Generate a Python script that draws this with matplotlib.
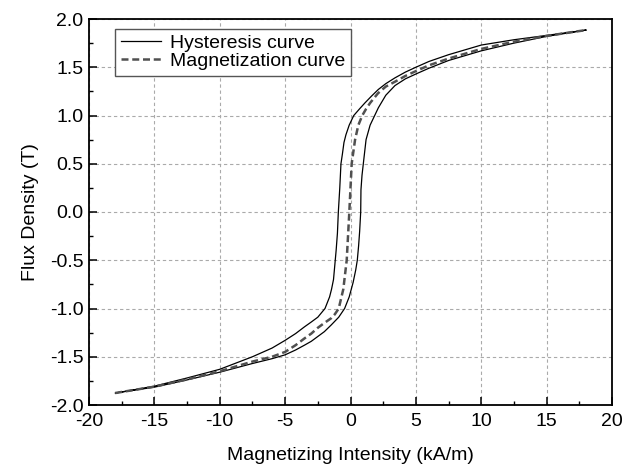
import matplotlib
matplotlib.use("Agg")
import matplotlib.pyplot as plt
import numpy as np
from matplotlib.ticker import MultipleLocator

plt.rcParams['font.family'] = ['Liberation Sans', 'DejaVu Sans']

# Hysteresis loop: descending branch (H decreasing from +Hmax)
desc_H = [18.0, 15.0, 12.5, 10.0, 7.5, 6.0, 5.0, 4.2, 3.4, 2.7, 2.13, 1.6, 1.1, 0.7, 0.25,
          -0.1, -0.35, -0.5, -0.62, -0.73, -0.82, -0.93, -1.0, -1.1, -1.2, -1.3, -1.45,
          -1.6, -1.95, -2.5, -3.0, -3.52, -4.2, -5.0, -6.0, -7.5, -10.0, -12.5, -15.0, -18.0]
desc_B = [1.885, 1.83, 1.785, 1.73, 1.63, 1.56, 1.50, 1.45, 1.39, 1.33, 1.27, 1.20, 1.13, 1.07, 1.0,
          0.9, 0.8, 0.72, 0.6, 0.5, 0.25, 0.0, -0.22, -0.4, -0.55, -0.7, -0.8,
          -0.88, -1.0, -1.09, -1.14, -1.19, -1.26, -1.33, -1.41, -1.50, -1.63, -1.72, -1.805, -1.876]

# Hysteresis loop: ascending branch (H increasing from -Hmax)
asc_H = [-18.0, -15.0, -12.5, -10.0, -7.5, -6.0, -5.0, -4.2, -3.52, -3.0, -2.5, -2.0, -1.47,
         -0.9, -0.45, -0.1, 0.2, 0.4, 0.52, 0.62, 0.7, 0.78, 0.8, 0.88, 0.98, 1.19, 1.5,
         1.85, 2.13, 2.7, 3.4, 4.2, 5.0, 6.0, 7.5, 10.0, 12.5, 15.0, 18.0]
asc_B = [-1.876, -1.815, -1.74, -1.66, -1.57, -1.52, -1.48, -1.43, -1.38, -1.34, -1.29, -1.24, -1.17,
         -1.09, -1.0, -0.88, -0.73, -0.6, -0.5, -0.35, -0.2, 0.0, 0.23, 0.38, 0.5, 0.75, 0.9,
         1.0, 1.08, 1.21, 1.31, 1.38, 1.43, 1.49, 1.57, 1.67, 1.75, 1.82, 1.885]

# Initial magnetization curve (dashed)
mag_H = [-18.0, -15.0, -12.5, -10.0, -7.5, -6.0, -5.0, -4.2, -3.52, -3.0, -2.5, -2.0, -1.47,
         -1.2, -0.9, -0.55, -0.29, -0.09, 0.09, 0.35, 0.6, 0.9, 1.2, 1.5, 2.1, 2.7, 3.4,
         4.2, 5.0, 6.0, 7.5, 10.0, 12.5, 15.0, 18.0]
mag_B = [-1.876, -1.81, -1.735, -1.65, -1.55, -1.50, -1.45, -1.38, -1.31, -1.26, -1.2, -1.15, -1.1,
         -1.06, -1.0, -0.8, -0.5, 0.0, 0.5, 0.75, 0.9, 1.0, 1.07, 1.13, 1.23, 1.30, 1.35,
         1.41, 1.46, 1.52, 1.59, 1.69, 1.765, 1.825, 1.885]

x_ticks = [-20, -15, -10, -5, 0, 5, 10, 15, 20]
y_ticks = [-2.0, -1.5, -1.0, -0.5, 0.0, 0.5, 1.0, 1.5, 2.0]

fig = plt.figure(figsize=(6.34, 4.67), dpi=100)
ax = fig.add_axes([89/634, 1-405/467, (612-89)/634, (405-19)/467])

hyst_H = desc_H + asc_H
hyst_B = desc_B + asc_B
ax.plot(hyst_H, hyst_B, color='black', lw=0.9, label='Hysteresis curve', zorder=3)
ax.plot(mag_H, mag_B, color='#505050', lw=1.8, linestyle=(0, (2.8, 1.5)),
        label='Magnetization curve', zorder=3)

ax.set_xlim(-20, 20)
ax.set_ylim(-2.0, 2.0)
ax.set_xticks(x_ticks)
ax.set_yticks(y_ticks)
ax.set_xticklabels([f"{v:d}" for v in x_ticks])
ax.set_yticklabels([f"{v:.1f}" for v in y_ticks])
ax.xaxis.set_minor_locator(MultipleLocator(2.5))
ax.yaxis.set_minor_locator(MultipleLocator(0.25))
ax.tick_params(which='major', direction='in', length=6, width=1.1, labelsize=14,
               top=False, right=False)
ax.tick_params(axis='x', which='major', pad=6)
ax.tick_params(axis='y', which='major', pad=4)
ax.tick_params(which='minor', direction='in', length=3, width=1.0, top=False, right=False)

for s in ax.spines.values():
    s.set_linewidth(1.3)

ax.grid(True, which='major', color='#aaaaaa', lw=0.8, linestyle=(0, (3, 2.5)))
ax.set_axisbelow(True)

ax.set_xlabel('Magnetizing Intensity (kA/m)', fontsize=14, labelpad=12)
ax.set_ylabel('Flux Density (T)', fontsize=14, labelpad=8)

leg = ax.legend(loc='upper left', bbox_to_anchor=(0.05, 0.975), borderaxespad=0,
                fontsize=14, frameon=True, fancybox=False, handlelength=2.05,
                handletextpad=0.45, labelspacing=0.0, borderpad=0.3)
leg.get_frame().set_edgecolor('#555555')
leg.get_frame().set_linewidth(1.0)
leg.get_frame().set_alpha(1.0)

fig.savefig('out.png', dpi=100)
